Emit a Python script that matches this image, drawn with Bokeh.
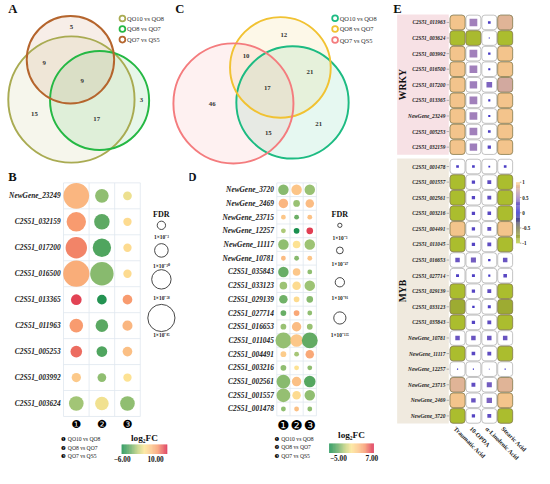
import numpy as np
from bokeh.plotting import figure
from bokeh.models import Range1d, ColumnDataSource
from bokeh.layouts import row, column
from bokeh.embed import file_html
from bokeh.resources import INLINE
from bokeh.core.properties import value
from bokeh.transform import linear_cmap

# ====================== DATA ======================
# Venn A: regions -> only1, only2, only3, 1&2, 1&3, all three
venn_a_sets = ["QO10 vs QO8", "QO8 vs QO7", "QO7 vs QS5"]
venn_a_counts = [15, 3, 5, 17, 9, 9]
# Venn C: regions -> only1, only2, only3, 1&2, 1&3, 2&3, all three
venn_c_sets = ["QO10 vs QO8", "QO8 vs QO7", "QO7 vs QS5"]
venn_c_counts = [21, 12, 46, 21, 15, 10, 17]

comparisons = ["QO10 vs QO8", "QO8 vs QO7", "QO7 vs QS5"]
comparison_marks = ["\u2776", "\u2777", "\u2778"]

# Panel B (WRKY bubbles)
b_genes = ["NewGene_23249", "C2S51_032159", "C2S51_017200", "C2S51_016500",
           "C2S51_013365", "C2S51_011963", "C2S51_005253", "C2S51_003992",
           "C2S51_003624"]
b_log2fc = [
    [5.2, -1.7, 1.4],
    [6.8, -3.3, 2.8],
    [7.4, -3.8, 2.8],
    [5.8, -2.0, 2.8],
    [9.2, -5.4, 6.8],
    [6.8, -3.4, 5.2],
    [8.1, -3.8, 4.7],
    [4.1, -1.7, 2.3],
    [-1.2, 1.5, -1.7],
]
b_fdr_exp = [  # -log10(FDR)
    [80, 30, 5],
    [58, 39, 3],
    [65, 53, 3],
    [82, 72, 3],
    [15, 10, 10],
    [30, 25, 12],
    [20, 15, 10],
    [8, 5, 3],
    [35, 30, 35],
]
b_fdr_legend = [3, 30, 58, 85]
b_fdr_labels = ["1\u00d710\u207b\u00b3", "1\u00d710\u207b\u00b3\u2070",
                "1\u00d710\u207b\u2075\u2078", "1\u00d710\u207b\u2078\u2075"]
b_fc_range = [-6.0, 10.0]
b_fc_labels = ["\u22126.00", "10.00"]

# Panel D (MYB bubbles)
d_genes = ["NewGene_3720", "NewGene_2469", "NewGene_23715", "NewGene_12257",
           "NewGene_11117", "NewGene_10781", "C2S51_035843", "C2S51_033123",
           "C2S51_029139", "C2S51_027714", "C2S51_016653", "C2S51_011045",
           "C2S51_004491", "C2S51_003216", "C2S51_002561", "C2S51_001557",
           "C2S51_001478"]
d_log2fc = [
    [-2.0, 2.8, -1.6],
    [3.4, -1.6, 3.2],
    [2.7, -2.6, 2.9],
    [-1.2, -4.8, 6.5],
    [-1.8, 1.2, -1.5],
    [3.2, -2.0, 2.8],
    [-2.7, 2.7, -1.8],
    [-1.5, 1.6, -1.5],
    [-2.5, 1.6, -2.0],
    [-2.7, 4.1, -1.8],
    [-1.6, 3.2, -1.6],
    [-1.7, 2.7, -2.8],
    [2.4, -1.3, 4.0],
    [-1.8, 1.2, -1.8],
    [-2.0, 3.0, -3.2],
    [-1.7, 1.6, -1.8],
    [-1.8, 3.0, -1.8],
]
d_fdr_exp = [
    [109, 109, 109],
    [93, 45, 77],
    [13, 13, 13],
    [13, 29, 45],
    [109, 61, 109],
    [13, 13, 13],
    [109, 61, 13],
    [61, 77, 109],
    [77, 29, 45],
    [29, 29, 13],
    [29, 93, 29],
    [190, 141, 190],
    [29, 13, 77],
    [29, 13, 13],
    [158, 93, 125],
    [158, 77, 109],
    [13, 13, 13],
]
d_fdr_legend = [3, 47, 91, 135]
d_fdr_labels = ["1\u00d710\u207b\u00b3", "1\u00d710\u207b\u2074\u2077",
                "1\u00d710\u207b\u2079\u00b9", "1\u00d710\u207b\u00b9\u00b3\u2075"]
d_fc_range = [-5.0, 7.0]
d_fc_labels = ["\u22125.00", "7.00"]

# Panel E (correlation heatmap)
e_acids = ["Traumatic Acid", "10-OPDA", "\u03b1-Linolenic Acid", "Stearic Acid"]
e_groups = ["WRKY", "MYB"]
e_wrky_genes = ["C2S51_011963", "C2S51_003624", "C2S51_003992", "C2S51_016500",
                "C2S51_017200", "C2S51_013365", "NewGene_23249", "C2S51_005253",
                "C2S51_032159"]
e_myb_genes = ["C2S51_001478", "C2S51_001557", "C2S51_002561", "C2S51_003216",
               "C2S51_004491", "C2S51_011045", "C2S51_016653", "C2S51_027714",
               "C2S51_029139", "C2S51_033123", "C2S51_035843", "NewGene_10781",
               "NewGene_11117", "NewGene_12257", "NewGene_23715", "NewGene_2469",
               "NewGene_3720"]
e_wrky_corr = [
    [0.95, 0.52, 0.18, 0.85],
    [-0.95, -0.93, 0.08, -0.95],
    [0.95, 0.52, 0.16, 0.95],
    [0.95, 0.52, 0.14, 0.95],
    [0.95, 0.50, 0.38, 0.78],
    [0.95, 0.52, 0.14, 0.95],
    [0.95, 0.52, 0.14, 0.95],
    [0.95, 0.52, 0.18, 0.95],
    [0.95, 0.50, 0.22, 0.95],
]
e_myb_corr = [
    [0.18, 0.18, 0.12, 0.18],
    [-0.95, 0.22, 0.26, -0.95],
    [-0.95, 0.22, 0.26, -0.95],
    [-0.95, 0.22, 0.24, -0.95],
    [0.95, 0.22, 0.26, 0.95],
    [-0.95, 0.22, 0.26, -0.95],
    [0.30, 0.34, 0.16, 0.30],
    [0.20, 0.20, 0.14, 0.24],
    [-0.95, 0.22, 0.26, -0.95],
    [-0.85, 0.16, 0.20, -0.85],
    [-0.95, 0.22, 0.26, -0.95],
    [0.30, 0.30, 0.30, 0.30],
    [-0.95, 0.24, 0.26, -0.95],
    [0.08, 0.08, 0.06, 0.08],
    [0.85, 0.26, 0.34, 0.85],
    [0.95, 0.30, 0.36, 0.95],
    [-0.95, 0.22, 0.26, -0.95],
]
e_cbar_ticks = [1, 0.5, 0, -0.5, -1]
e_cbar_labels = ["1", "0.5", "0", "-0.5", "-1"]

# ====================== STYLE / HELPERS ======================
SERIF = "Liberation Serif"
S = 0.97  # page px per reference px


def fs(px):
    return f"{px * S:.2f}px"


def build_palette(stops, n=256):
    pos = [s[0] for s in stops]
    rgb = [tuple(int(s[1][k:k + 2], 16) for k in (1, 3, 5)) for s in stops]
    t = np.linspace(0, 1, n)
    chans = [np.interp(t, pos, [c[i] for c in rgb]) for i in range(3)]
    return ["#%02x%02x%02x" % (int(round(r)), int(round(g)), int(round(b)))
            for r, g, b in zip(*chans)]


PAL_FC = build_palette([(0, "#00843e"), (0.2, "#5fa85a"), (0.35, "#b9cc72"),
                        (0.5, "#fde38c"), (0.65, "#fcc07e"), (0.8, "#f79363"),
                        (1, "#d8163c")])
PAL_R = build_palette([(0, "#b2c62c"), (0.25, "#6b6a40"), (0.5, "#1a16c8"),
                       (0.75, "#9d7dbd"), (1, "#fccb87")])


def make_fig(w, h, x0, x1, y0, y1):
    p = figure(width=w, height=h, x_range=Range1d(x0, x1), y_range=Range1d(y1, y0),
               output_backend="svg", toolbar_location=None,
               x_axis_type=None, y_axis_type=None, min_border=0)
    p.outline_line_color = None
    p.background_fill_color = "white"
    p.border_fill_color = "white"
    return p


def txt(p, x, y, texts, size, style="normal", align="center", baseline="middle",
        color="#222222", font=SERIF, angle=0.0):
    p.text(x=list(x), y=list(y), text=list(texts), text_font=value(font),
           text_font_size=fs(size), text_font_style=style, text_align=align,
           text_baseline=baseline, text_color=color, angle=angle)


def rscale(v, vals, radii):
    v = np.asarray(v, float)
    r = np.interp(v, vals, radii)
    slope = (radii[-1] - radii[-2]) / (vals[-1] - vals[-2])
    return np.where(v > vals[-1], radii[-1] + (v - vals[-1]) * slope, r)


def hgradient(p, x0, x1, ytop, ybot, lo, hi, pal, n=120):
    v = np.linspace(lo, hi, n)
    e = np.linspace(x0, x1, n + 1)
    src = ColumnDataSource(dict(l=e[:-1], r=e[1:] + 0.05, v=v))
    p.quad(left="l", right="r", top=ytop, bottom=ybot, source=src,
           fill_color=linear_cmap("v", pal, lo, hi), line_color=None)


def vgradient(p, xl, xr, ytop, ybot, lo, hi, pal, n=120):
    v = np.linspace(hi, lo, n)
    e = np.linspace(ytop, ybot, n + 1)
    src = ColumnDataSource(dict(t=e[:-1], b=e[1:] + 0.05, v=v))
    p.quad(left=xl, right=xr, top="t", bottom="b", source=src,
           fill_color=linear_cmap("v", pal, lo, hi), line_color=None)


# ====================== VENN PANELS ======================
def venn(p, letter, lxy, circles, colors, counts, count_pos, sets, leg_x, leg_y):
    for (cx, cy, r), col in zip(circles, colors):
        p.circle(x=[cx], y=[cy], radius=r, fill_color=col, fill_alpha=0.11,
                 line_color=None)
    for (cx, cy, r), col in zip(circles, colors):
        p.circle(x=[cx], y=[cy], radius=r, fill_color=None,
                 line_color=col, line_width=2.0 * S)
    txt(p, [lxy[0]], [lxy[1]], [letter], 13, "bold", align="left", color="#111111")
    txt(p, [c[0] for c in count_pos], [c[1] for c in count_pos],
        [str(c) for c in counts], 7, "bold", color="#333333")
    p.circle(x=[leg_x] * len(sets), y=leg_y, radius=3.0, fill_color=None,
             line_color=colors, line_width=1.8 * S)
    txt(p, [leg_x + 4.8] * len(sets), leg_y, sets, 6.6, align="left",
        color="#333333")


pa = make_fig(170, 165, 0, 175, 0, 170)
venn(pa, "A", (8, 8.5),
     [(73, 102, 65), (102, 103, 51), (72, 61, 45)],
     ["#a9ab52", "#25b844", "#b5652d"],
     venn_a_counts,
     [(35, 117), (145, 103), (73, 27), (99, 122), (45, 64), (84, 83)],
     venn_a_sets, 125.5, [18.5, 29.3, 40.3])

pc = make_fig(213, 165, 175, 395, 0, 170)
venn(pc, "C", (180, 8.5),
     [(301, 105, 58), (288.5, 69, 52), (240, 106, 62)],
     ["#1dbb82", "#f1c232", "#f47c7e"],
     venn_c_counts,
     [(328, 127), (292, 36), (218, 107), (319, 74), (276, 136), (253, 57), (275, 90)],
     venn_c_sets, 345, [18.3, 29.3, 40.7])


# ====================== BUBBLE PANELS ======================
def bubble(p, letter, lxy, genes, fc, fdr, fc_rng, fc_labels, leg_vals, leg_r,
           leg_labels, g, mark_size, lab_size):
    gx0, gy0, cw, rh = g["gx0"], g["gy0"], g["cw"], g["rh"]
    n, m = len(genes), len(fc[0])
    # grid
    xs_v = [gx0 + k * cw for k in range(m + 1)]
    ys_h = [gy0 + k * rh for k in range(n + 1)]
    p.segment(x0=xs_v, x1=xs_v, y0=[gy0] * len(xs_v), y1=[gy0 + n * rh] * len(xs_v),
              line_color="#dfe7ef", line_width=0.8)
    p.segment(x0=[gx0] * len(ys_h), x1=[gx0 + m * cw] * len(ys_h), y0=ys_h, y1=ys_h,
              line_color="#dfe7ef", line_width=0.8)
    # bubbles
    xs, ys, vs, ds = [], [], [], []
    for i in range(n):
        for j in range(m):
            xs.append(gx0 + (j + 0.5) * cw)
            ys.append(gy0 + (i + 0.5) * rh)
            vs.append(fc[i][j])
            ds.append(float(rscale(fdr[i][j], leg_vals, leg_r)) * 2 * S)
    src = ColumnDataSource(dict(x=xs, y=ys, v=vs, d=ds))
    p.scatter(x="x", y="y", size="d", source=src, marker="circle",
              fill_color=linear_cmap("v", PAL_FC, fc_rng[0], fc_rng[1]),
              fill_alpha=0.92, line_color=None)
    # labels
    txt(p, [gx0 - 3] * n, [gy0 + (i + 0.5) * rh for i in range(n)], genes, lab_size,
        "bold italic", align="right", color="#1a1a1a")
    txt(p, [lxy[0]], [lxy[1]], [letter], 13, "bold", align="left", color="#111111")
    # comparison marks under columns
    txt(p, [gx0 + (j + 0.5) * cw for j in range(m)], [g["mark_y"]] * m,
        comparison_marks, mark_size, "normal", color="#000000", font="DejaVu Sans")
    # comparison key
    kx, ky = g["key_x"], g["key_y"]
    txt(p, [kx] * m, ky, comparison_marks, 5.5, color="#000000", font="DejaVu Sans")
    txt(p, [kx + 4.5] * m, ky, comparisons, 5.8, align="left", color="#222222")
    # log2FC colorbar
    cx0, cx1, cy0, cy1 = g["cbar"]
    txt(p, [(cx0 + cx1) / 2], [g["cbar_title_y"]], ["log\u2082FC"], 9.5, "bold",
        color="#111111")
    hgradient(p, cx0, cx1, cy0, cy1, fc_rng[0], fc_rng[1], PAL_FC)
    txt(p, g["cbar_lab_x"], [g["cbar_lab_y"]] * 2, fc_labels, 7.5, "bold",
        color="#111111")
    # FDR legend
    fx = g["fdr_x"]
    txt(p, [fx], [g["fdr_title_y"]], ["FDR"], 8.3, "bold", color="#111111")
    p.scatter(x=[fx] * len(leg_vals), y=g["fdr_circ_y"],
              size=[float(rscale(v, leg_vals, leg_r)) * 2 * S for v in leg_vals],
              marker="circle", fill_color=None, line_color="#333333", line_width=0.9)
    txt(p, [fx] * len(leg_vals), g["fdr_lab_y"], leg_labels, 5.6, "bold",
        color="#222222")


pb = make_fig(189, 303, 0, 195, 170, 484)
bubble(pb, "B", (8, 182), b_genes, b_log2fc, b_fdr_exp, b_fc_range, b_fc_labels,
       b_fdr_legend, [4.3, 7.0, 10.0, 14.0], b_fdr_labels,
       dict(gx0=65, gy0=188, cw=26.4, rh=26.9, mark_y=438.5,
            key_x=65, key_y=[453.5, 463, 471.5],
            cbar=(125, 172, 459, 469), cbar_title_y=452, cbar_lab_x=[125.5, 160],
            cbar_lab_y=474.5,
            fdr_x=166, fdr_title_y=221, fdr_circ_y=[232, 258, 288, 328],
            fdr_lab_y=[244.5, 274, 307, 345.5]),
       11.5, 7.6)

pd_ = make_fig(194, 303, 195, 395, 170, 484)
bubble(pd_, "D", (193, 182), d_genes, d_log2fc, d_fdr_exp, d_fc_range, d_fc_labels,
       d_fdr_legend, [2.2, 3.5, 4.8, 6.3], d_fdr_labels,
       dict(gx0=285, gy0=188, cw=13.6, rh=14.2, mark_y=438.5,
            key_x=285, key_y=[453, 462, 471],
            cbar=(339, 385, 458, 468), cbar_title_y=449, cbar_lab_x=[348.5, 383],
            cbar_lab_y=473.5,
            fdr_x=350, fdr_title_y=221, fdr_circ_y=[232, 258, 291, 328],
            fdr_lab_y=[245, 272.5, 307, 346]),
       14, 7.6)

# ====================== HEATMAP PANEL E ======================
pe = make_fig(151, 468, 395, 550, 0, 484)
ex0, epx, epy = 471.0, 16.3, 16.12
ey_wrky, ey_myb = 22.7, 171.7
cwb, chb = 15.3, 15.1

groups = [(e_groups[0], e_wrky_genes, e_wrky_corr, ey_wrky, "#f7e1e5"),
          (e_groups[1], e_myb_genes, e_myb_corr, ey_myb, "#f0eadf")]
for gname, genes, corr, y0, band in groups:
    ys = [y0 + i * epy for i in range(len(genes))]
    top, bot = ys[0] - epy / 2 - 0.2, ys[-1] + epy / 2 - 0.2
    pe.quad(left=409, right=462, top=top, bottom=bot, fill_color=band, line_color=None)
    txt(pe, [414.5], [(top + bot) / 2], [gname], 10, "bold", color="#111111",
        angle=np.pi / 2)
    txt(pe, [458.5] * len(genes), ys, genes, 5.5, "bold italic", align="right",
        color="#1a1a1a")
    pe.segment(x0=[459.8] * len(genes), x1=[462.3] * len(genes), y0=ys, y1=ys,
               line_color="#888888", line_width=0.6)
    cx, cy, big, small = [], [], dict(l=[], r=[], t=[], b=[], v=[]), dict(l=[], r=[], t=[], b=[], v=[])
    for i, yy in enumerate(ys):
        for j in range(len(e_acids)):
            xx = ex0 + j * epx
            cx.append(xx)
            cy.append(yy)
            v = corr[i][j]
            dst = big if abs(v) >= 0.7 else small
            hw, hh = abs(v) * cwb / 2, abs(v) * chb / 2
            if abs(v) >= 0.7:
                hw, hh = cwb / 2, chb / 2
            dst["l"].append(xx - hw)
            dst["r"].append(xx + hw)
            dst["t"].append(yy - hh)
            dst["b"].append(yy + hh)
            dst["v"].append(v)
    bg = dict(left=[x - cwb / 2 for x in cx], right=[x + cwb / 2 for x in cx],
              top=[y - chb / 2 for y in cy], bottom=[y + chb / 2 for y in cy])
    try:
        pe.quad(**bg, fill_color="white", line_color="#a8a8a8", line_width=0.7,
                border_radius=3)
    except Exception:
        pe.quad(**bg, fill_color="white", line_color="#a8a8a8", line_width=0.7)
    cm = linear_cmap("v", PAL_R, -1, 1)
    try:
        pe.quad(left="l", right="r", top="t", bottom="b", source=ColumnDataSource(big),
                fill_color=cm, line_color="#857a48", line_width=0.7, border_radius=3)
    except Exception:
        pe.quad(left="l", right="r", top="t", bottom="b", source=ColumnDataSource(big),
                fill_color=cm, line_color="#857a48", line_width=0.7)
    pe.quad(left="l", right="r", top="t", bottom="b", source=ColumnDataSource(small),
            fill_color=cm, line_color=None)

txt(pe, [405], [8.5], ["E"], 13, "bold", align="left", color="#111111")
txt(pe, [ex0 + j * epx - 2.5 for j in range(len(e_acids))], [441.5] * len(e_acids),
    e_acids, 6.4, "bold", align="left", color="#222222", angle=-np.pi / 4)

# correlation colour bar
cb_top, cb_bot = 188.0, 251.0
vgradient(pe, 531, 535, cb_top, cb_bot, -1, 1, PAL_R)
tick_y = [cb_bot - (t + 1) / 2 * (cb_bot - cb_top) for t in e_cbar_ticks]
pe.segment(x0=[535] * 5, x1=[536.5] * 5, y0=tick_y, y1=tick_y, line_color="#444444",
           line_width=0.5)
txt(pe, [537.5] * 5, tick_y, e_cbar_labels, 5.2, "bold", align="left", color="#222222")

layout = row(column(row(pa, pc), row(pb, pd_)), pe)
open("out.html", "w").write(file_html(layout, INLINE))
